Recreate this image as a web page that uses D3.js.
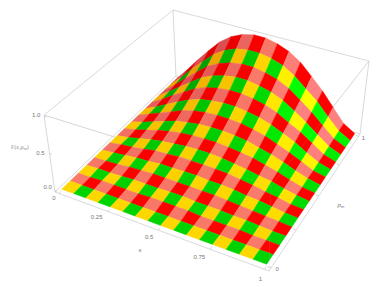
<!DOCTYPE html>
<html>
<head>
<meta charset="utf-8">
<script src="https://cdnjs.cloudflare.com/ajax/libs/d3/7.8.5/d3.min.js"></script>
<style>
  body { margin: 0; background: #fff; }
  text { font-family: "Liberation Sans", sans-serif; fill: #777; font-size: 6px; }
</style>
</head>
<body>
<svg id="chart" width="382" height="287"></svg>
<script>
// axis ticks
var sTicks = [0, 0.25, 0.5, 0.75, 1];
var sTickLabels = ["0", "0.25", "0.5", "0.75", "1"];
var rhoTicks = [0, 0.25, 0.5, 0.75, 1];
var zTicks = [0, 0.5, 1];
var zTickLabels = ["0.0", "0.5", "1.0"];

// surface height, rows go rho = 0 .. 1, columns s = 0 .. 1 in steps of 1/16
var surface = [
  [0, 0, 0, 0, 0, 0, 0, 0, 0, 0, 0, 0, 0, 0, 0, 0, 0],
  [0, 0, 0, 0, 0, 0, 0, 0, 0, 0, 0, 0, 0, 0, 0, 0, 0],
  [0, 0, .01, .01, .01, .01, .02, .02, .02, .02, .01, .01, .01, .01, 0, 0, 0],
  [0, .01, .01, .02, .03, .03, .03, .04, .04, .03, .03, .03, .02, .02, .01, 0, 0],
  [0, .01, .02, .04, .05, .06, .06, .06, .06, .06, .06, .05, .04, .03, .02, .01, 0],
  [0, .02, .04, .06, .07, .09, .09, .10, .10, .09, .09, .08, .06, .05, .03, .01, 0],
  [0, .03, .05, .08, .11, .12, .14, .14, .14, .14, .13, .11, .09, .06, .04, .01, 0],
  [0, .03, .07, .11, .14, .16, .18, .19, .19, .18, .16, .14, .11, .09, .05, .02, 0],
  [0, .04, .09, .14, .18, .21, .23, .24, .24, .23, .21, .19, .15, .11, .06, .02, 0],
  [0, .05, .11, .17, .23, .26, .29, .30, .30, .29, .27, .23, .19, .14, .08, .03, 0],
  [0, .07, .14, .21, .28, .33, .36, .37, .37, .36, .33, .29, .23, .17, .10, .03, 0],
  [0, .08, .17, .26, .34, .40, .43, .45, .45, .43, .40, .35, .28, .21, .12, .04, 0],
  [0, .10, .21, .31, .41, .48, .52, .54, .54, .52, .48, .42, .33, .25, .15, .05, 0],
  [0, .12, .24, .36, .48, .56, .61, .64, .64, .61, .57, .50, .40, .29, .17, .06, 0],
  [0, .13, .28, .42, .56, .65, .71, .74, .74, .71, .66, .58, .46, .34, .20, .07, 0],
  [0, .15, .33, .49, .65, .76, .83, .86, .86, .83, .77, .67, .53, .40, .23, .08, 0],
  [0, .18, .38, .57, .75, .88, .96, 1, 1, .96, .89, .78, .62, .46, .27, .09, 0]
];

// checker colours: [lit side, flat, shaded side]
var yellowShades = ["#ffff00", "#ffd700", "#eb9c00"];
var greenShades = ["#00ff00", "#00d400", "#00a000"];
var salmonShades = ["#ff8080", "#f97a68", "#dc4c50"];
var redShades = ["#ff0000", "#ff0000", "#e00000"];

var svg = d3.select("#chart");

// screen corners of the box, floor and lid
var floorQuad = [[55, 192], [269, 271], [360, 134], [176, 76]];
var lidQuad = [[44, 115], [271, 186], [369, 61], [173, 10]];

function homography(q) {
  var dx1 = q[1][0] - q[2][0], dx2 = q[3][0] - q[2][0], sx = q[0][0] - q[1][0] + q[2][0] - q[3][0];
  var dy1 = q[1][1] - q[2][1], dy2 = q[3][1] - q[2][1], sy = q[0][1] - q[1][1] + q[2][1] - q[3][1];
  var den = dx1 * dy2 - dx2 * dy1;
  var g = (sx * dy2 - dx2 * sy) / den, h = (dx1 * sy - sx * dy1) / den;
  var a = q[1][0] - q[0][0] + g * q[1][0], b = q[3][0] - q[0][0] + h * q[3][0];
  var d = q[1][1] - q[0][1] + g * q[1][1], e = q[3][1] - q[0][1] + h * q[3][1];
  return function (u, v) {
    var w = g * u + h * v + 1;
    return [(a * u + b * v + q[0][0]) / w, (d * u + e * v + q[0][1]) / w];
  };
}
var floorH = homography(floorQuad), lidH = homography(lidQuad);

// data ranges sit inside the box with 2% padding
var x = d3.scaleLinear().domain([0, 1]).range([0.02, 0.98]);
var y = d3.scaleLinear().domain([0, 1]).range([0.02, 0.98]);
var z = d3.scaleLinear().domain([0, 1]).range([0.02, 0.98]);

function boxPoint(u, v, w) {
  var a = floorH(u, v), b = lidH(u, v);
  return [a[0] + (b[0] - a[0]) * w, a[1] + (b[1] - a[1]) * w];
}
function project(s, rho, h) {
  return boxPoint(x(s), y(rho), z(h));
}

var line = d3.line();
var boxEdge = "#cfcfcf";

function edge(g, a, b) {
  g.append("path").attr("d", line([boxPoint.apply(null, a), boxPoint.apply(null, b)]))
    .attr("fill", "none").attr("stroke", boxEdge).attr("stroke-width", 0.8);
}

// box edges, the surface is painted over them
var back = svg.append("g");
edge(back, [0, 0, 0], [0, 0, 1]);
edge(back, [0, 1, 0], [0, 1, 1]);
edge(back, [1, 1, 0], [1, 1, 1]);
edge(back, [0, 1, 1], [0, 0, 1]);
edge(back, [0, 1, 1], [1, 1, 1]);
edge(back, [0, 0, 0], [0, 1, 0]);
edge(back, [0, 1, 0], [1, 1, 0]);
edge(back, [0, 0, 0], [1, 0, 0]);
edge(back, [1, 0, 0], [1, 1, 0]);
edge(back, [0, 0, 1], [1, 0, 1]);
edge(back, [1, 0, 1], [1, 1, 1]);

// shading from the local slope of the cell
function shade(shades, dzS, dzR) {
  return d3.scaleLinear().domain([-0.1, 0, 0.16]).range(shades).clamp(true)(dzS + 0.3 * dzR);
}

var n = surface.length - 1;
var cells = [];
for (var j = n - 1; j >= 0; j--) {
  for (var i = 0; i < n; i++) {
    cells.push({ i: i, j: j });
  }
}

function cellColor(d) {
  var shades = d.j % 2 == 0 ? (d.i % 2 == 0 ? yellowShades : greenShades) : (d.i % 2 == 0 ? salmonShades : redShades);
  var dzS = (surface[d.j][d.i + 1] + surface[d.j + 1][d.i + 1] - surface[d.j][d.i] - surface[d.j + 1][d.i]) / 2;
  var dzR = (surface[d.j + 1][d.i] + surface[d.j + 1][d.i + 1] - surface[d.j][d.i] - surface[d.j][d.i + 1]) / 2;
  return shade(shades, dzS, dzR);
}

svg.append("g").selectAll("path")
  .data(cells)
  .enter()
  .append("path")
  .attr("d", function (d) {
    return line([
      project(d.i / n, d.j / n, surface[d.j][d.i]),
      project((d.i + 1) / n, d.j / n, surface[d.j][d.i + 1]),
      project((d.i + 1) / n, (d.j + 1) / n, surface[d.j + 1][d.i + 1]),
      project(d.i / n, (d.j + 1) / n, surface[d.j + 1][d.i])
    ]) + "Z";
  })
  .attr("fill", cellColor)
  .attr("stroke", cellColor)
  .attr("stroke-width", 0.4);

// front of the box, very faint over the surface
var front = svg.append("g").attr("opacity", 0.15);
edge(front, [1, 0, 0], [1, 0, 1]);
edge(front, [0, 0, 1], [1, 0, 1]);
edge(front, [1, 0, 1], [1, 1, 1]);

// ticks
var ticks = svg.append("g");
function tick(a, b) {
  ticks.append("path").attr("d", line([a, b])).attr("fill", "none").attr("stroke", "#bbb").attr("stroke-width", 0.6);
}
sTicks.forEach(function (t) {
  tick(boxPoint(x(t), 0, 0), boxPoint(x(t), 0.018, 0));
});
rhoTicks.forEach(function (t) {
  tick(boxPoint(1, y(t), 0), boxPoint(0.985, y(t), 0));
});
zTicks.forEach(function (t) {
  tick(boxPoint(0, 0, z(t)), boxPoint(0.012, 0, z(t)));
});

// tick labels, nudged one by one
function label(p, dx, dy, txt) {
  return svg.append("text").attr("x", p[0] + dx).attr("y", p[1] + dy).attr("text-anchor", "middle").text(txt);
}
var sNudge = [[-5, 7], [-11, 8], [-9, 9], [-11, 10], [-4, 12]];
sTicks.forEach(function (t, k) {
  label(boxPoint(x(t), 0, 0), sNudge[k][0], sNudge[k][1], sTickLabels[k]);
});
var zNudge = [[-7, -1], [-9, 1], [-8, 0]];
zTicks.forEach(function (t, k) {
  label(boxPoint(0, 0, z(t)), zNudge[k][0], zNudge[k][1], zTickLabels[k]);
});
label(boxPoint(1, y(0), 0), 6, 3, "0");
label(boxPoint(1, y(1), 0), 5, 4, "1");

// axis titles
svg.append("text").attr("x", 140).attr("y", 252).attr("text-anchor", "middle").attr("font-style", "italic").text("s");
var rhoLabel = svg.append("text").attr("x", 341).attr("y", 207).attr("text-anchor", "middle").attr("font-style", "italic").text("ρ");
rhoLabel.append("tspan").attr("dy", 1).style("font-size", "4px").text("m");
var fLabel = svg.append("text").attr("x", 20).attr("y", 149).attr("text-anchor", "middle").style("font-family", "'DejaVu Sans', sans-serif").style("font-size", "5px").text("𝔽(s,ρ");
fLabel.append("tspan").attr("dy", 1).style("font-size", "3.5px").text("m");
fLabel.append("tspan").attr("dy", -1).text(")");
</script>
</body>
</html>
